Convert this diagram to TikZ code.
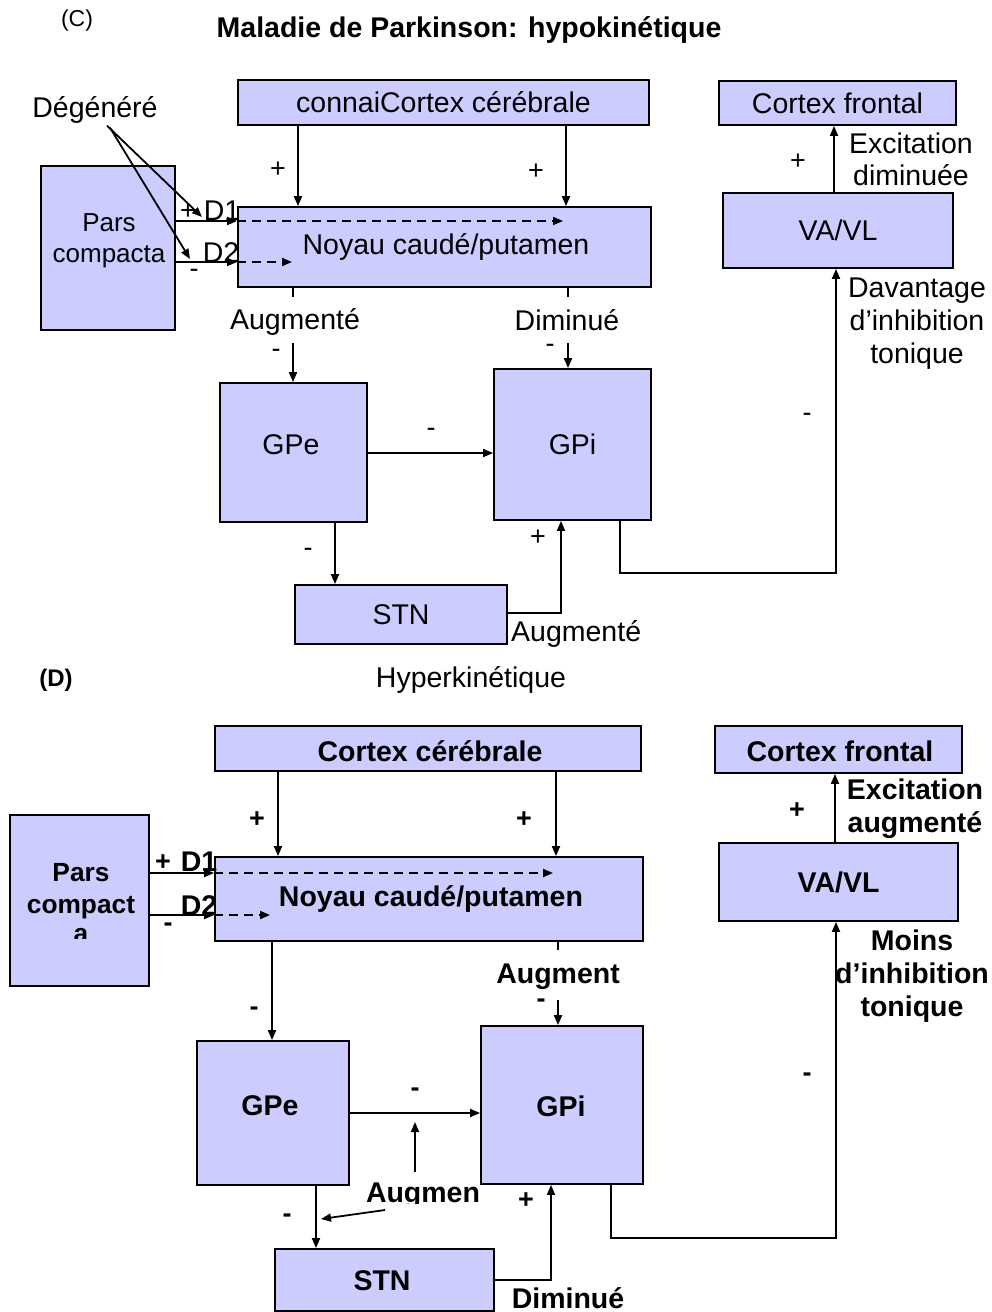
\documentclass[tikz,border=0pt]{standalone}
\usepackage{fontspec}
\setmainfont{Liberation Sans}
\usetikzlibrary{arrows.meta}
\definecolor{boxfill}{RGB}{204,204,255}
\newcommand{\fsz}{\fontsize{28.5}{32}\selectfont}
\newcommand{\fszb}{\fontsize{28.5}{33}\selectfont}
\newcommand{\ssz}{\fontsize{27}{30}\selectfont}
\begin{document}
\begin{tikzpicture}[x=1pt,y=-1pt,
  box/.style={draw=black, line width=1.8pt, fill=boxfill, inner sep=0pt, font=\fsz, align=center},
  txt/.style={inner sep=0pt, font=\fsz, align=center},
  sgn/.style={inner sep=0pt, font=\ssz},
  ln/.style={line width=1.8pt},
  arr/.style={line width=1.8pt, -{Triangle[length=10pt,width=8pt]}},
  dsh/.style={line width=1.8pt, dash pattern=on 9pt off 6pt, -{Triangle[length=10pt,width=8pt]}}
]
\useasboundingbox (0,0) rectangle (991,1312);
\fill[white] (0,0) rectangle (991,1312);

% ---------------- Panel C ----------------
\node[txt, font=\fontsize{23}{26}\selectfont] (lc) at (77,21) {(C)};
\node[txt, font=\fsz\bfseries] (t1) at (469,30) {Maladie de Parkinson: hypokinétique};

\node[box, minimum width=411pt, minimum height=45pt] (cc1) at (443.5,102.5) {connaiCortex cérébrale};
\node[box, minimum width=237pt, minimum height=44pt] (cf1) at (837.5,103) {Cortex frontal};
\node[box, minimum width=134pt, minimum height=164pt] (pc1) at (108,248) {};
\node[txt, font=\fontsize{26}{31}\selectfont] (pc1t) at (109,241) {Pars\\compacta};
\node[box, minimum width=413pt, minimum height=80pt] (ny1) at (444.5,247) {};
\node[txt] (ny1t) at (446,247) {Noyau caudé/putamen};
\node[box, minimum width=230pt, minimum height=75pt] (va1) at (838,230.5) {VA/VL};
\node[box, minimum width=147pt, minimum height=139pt] (gpe1) at (293.5,452.5) {};
\node[txt] (gpe1t) at (291,445) {GPe};
\node[box, minimum width=157pt, minimum height=151pt] (gpi1) at (572.5,444.5) {GPi};
\node[box, minimum width=212pt, minimum height=59pt] (stn1) at (401,614.5) {STN};
\node[txt] (deg) at (95,110) {Dégénéré};

\draw[arr] (cc1.south -| 298,0) -- (ny1.north -| 298,0);
\node[sgn] at (278,170) {+};
\draw[arr] (cc1.south -| 566,0) -- (ny1.north -| 566,0);
\node[sgn] at (536,172) {+};

\draw[arr] (pc1.east |- 0,221) -- (ny1.west |- 0,221);
\draw[dsh] (ny1.west |- 0,221) -- (563,221);
\draw[arr] (pc1.east |- 0,262) -- (ny1.west |- 0,262);
\draw[dsh] (ny1.west |- 0,262) -- (292,262);
\draw[arr] ([shift={(12,2)}]deg.south) -- (202,217);
\draw[arr] ([shift={(15,4)}]deg.south) -- (190,259);
\node[sgn] at (188,212) {+};
\node[txt] at (222,211) {D1};
\node[sgn] at (194,273) {-};
\node[txt] at (221,253) {D2};

\coordinate (t1a) at (293,297);
\coordinate (t1b) at (293,343);
\draw[ln] (ny1.south -| t1a) -- (t1a);
\draw[arr] (t1b) -- (gpe1.north -| t1b);
\node[txt] at (295,322) {Augmenté};
\node[sgn] at (276,353) {-};
\coordinate (t2a) at (568,297);
\coordinate (t2b) at (568,343);
\draw[ln] (ny1.south -| t2a) -- (t2a);
\draw[arr] (t2b) -- (gpi1.north -| t2b);
\node[txt] at (567,320) {Diminué};
\node[sgn] at (550,348) {-};

\draw[arr] (gpe1.east |- 0,453) -- (gpi1.west |- 0,453);
\node[sgn] at (431,432) {-};
\draw[arr] (gpe1.south -| 335,0) -- (stn1.north -| 335,0);
\node[sgn] at (308,552) {-};
\draw[arr] (stn1.east |- 0,613) -| (gpi1.south -| 561,0);
\node[sgn] at (538,538) {+};
\node[txt, anchor=west] at (511,634) {Augmenté};

\coordinate (k1) at (836,573);
\draw[arr] (gpi1.south -| 620,0) |- (k1) -- (va1.south -| 836,0);
\node[sgn] at (807,417) {-};
\node[txt, font=\fszb] at (917,324) {Davantage\\d’inhibition\\tonique};
\draw[arr] (va1.north -| 834,0) -- (cf1.south -| 834,0);
\node[sgn] at (798,162) {+};
\node[txt] at (911,159) {Excitation\\diminuée};

% ---------------- Panel D ----------------
\node[txt, font=\fontsize{24}{26}\selectfont\bfseries] (ld) at (56,680) {(D)};
\node[txt] (t2) at (471,680) {Hyperkinétique};

\begin{scope}[box/.append style={font=\fsz\bfseries}, txt/.append style={font=\fsz\bfseries}, sgn/.append style={font=\ssz\bfseries}]
\node[box, minimum width=426pt, minimum height=45pt] (cc2) at (428,748.5) {};
\node[txt] (cc2t) at (430,751) {Cortex cérébrale};
\node[box, minimum width=247pt, minimum height=47pt] (cf2) at (838.5,749.5) {};
\node[txt] (cf2t) at (840,751) {Cortex frontal};
\node[box, minimum width=139pt, minimum height=171pt] (pc2) at (79.5,900.5) {};
\begin{scope}
\clip (12,817) rectangle (147,938);
\node[txt, font=\fontsize{26.3}{32}\selectfont\bfseries] (pc2t) at (81,903.5) {Pars\\compact\\[-3pt]a};
\end{scope}
\node[box, minimum width=428pt, minimum height=84pt] (ny2) at (429,899) {};
\node[txt] (ny2t) at (431,899) {Noyau caudé/putamen};
\node[box, minimum width=239pt, minimum height=78pt] (va2) at (838.5,882) {VA/VL};
\node[box, minimum width=152pt, minimum height=144pt] (gpe2) at (273,1113) {};
\node[txt] (gpe2t) at (270,1106) {GPe};
\node[box, minimum width=162pt, minimum height=158pt] (gpi2) at (562,1105) {};
\node[txt] (gpi2t) at (561,1106) {GPi};
\node[box, minimum width=219pt, minimum height=62pt] (stn2) at (384.5,1280) {};
\node[txt] (stn2t) at (382,1281) {STN};

\draw[arr] (cc2.south -| 278,0) -- (ny2.north -| 278,0);
\node[sgn] at (257,820) {+};
\draw[arr] (cc2.south -| 556,0) -- (ny2.north -| 556,0);
\node[sgn] at (524,820) {+};

\draw[arr] (pc2.east |- 0,873) -- (ny2.west |- 0,873);
\draw[dsh] (ny2.west |- 0,873) -- (553,873);
\draw[arr] (pc2.east |- 0,915) -- (ny2.west |- 0,915);
\draw[dsh] (ny2.west |- 0,915) -- (270,915);
\node[sgn] at (163,863) {+};
\node[txt] at (199,862) {D1};
\node[sgn] at (168,927) {-};
\node[txt] at (199,906) {D2};

\draw[arr] (ny2.south -| 272,0) -- (gpe2.north -| 272,0);
\node[sgn] at (254,1011) {-};
\coordinate (t3a) at (558,950);
\coordinate (t3b) at (558,1000);
\draw[ln] (ny2.south -| t3a) -- (t3a);
\draw[arr] (t3b) -- (gpi2.north -| t3b);
\node[txt] at (558,977) {Augment};
\node[sgn] at (541,1003) {-};

\draw[arr] (gpe2.east |- 0,1113) -- (gpi2.west |- 0,1113);
\node[sgn] at (415,1092) {-};
\begin{scope}
\clip (350,1170) rectangle (500,1203);
\node[txt, anchor=base] (aug) at (423,1202) {Augmen};
\end{scope}
\coordinate (a1) at (415,1122);
\coordinate (a2) at (321,1219);
\draw[arr] (415,1172) -- (a1);
\draw[arr] (385,1210) -- (a2);
\draw[arr] (gpe2.south -| 316,0) -- (stn2.north -| 316,0);
\node[sgn] at (287,1218) {-};
\draw[arr] (stn2.east |- 0,1280) -| (gpi2.south -| 551,0);
\node[sgn] at (526,1201) {+};
\node[txt] at (568,1298) {Diminué};

\coordinate (k2) at (836,1238);
\draw[arr] (gpi2.south -| 611,0) |- (k2) -- (va2.south -| 836,0);
\node[sgn] at (807,1077) {-};
\node[txt, font=\fszb\bfseries] at (912,976) {Moins\\d’inhibition\\tonique};
\draw[arr] (va2.north -| 835,0) -- (cf2.south -| 835,0);
\node[sgn] at (797,811) {+};
\node[txt, font=\fszb\bfseries] at (915,809) {Excitation\\augmenté};
\end{scope}
\end{tikzpicture}
\end{document}
